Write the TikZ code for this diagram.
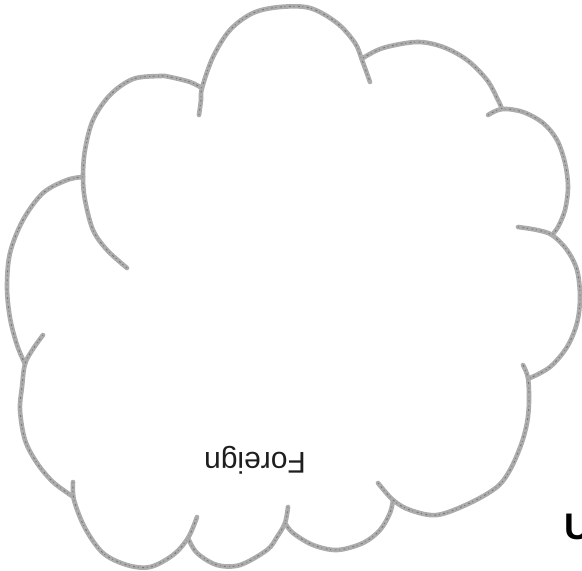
\documentclass[tikz,border=0pt]{standalone}
\usepackage{fontspec}
\setmainfont{Liberation Sans}
\begin{document}
\begin{tikzpicture}[x=1pt,y=-1pt,
  lobe/.style={draw={rgb,255:red,172;green,172;blue,172}, line width=4.6pt, line cap=round, line join=round},
  grain/.style={draw={rgb,255:red,120;green,120;blue,120}, line width=0.9pt, dash pattern=on 1pt off 3.5pt on 2pt off 2.5pt},
  lbl/.style={text={rgb,255:red,30;green,30;blue,30}, font=\fontsize{30}{36}\selectfont, inner sep=0pt}]
\useasboundingbox (0,0) rectangle (582,571);
\clip (0,0) rectangle (582,571);
\fill[white] (0,0) rectangle (582,571);
\def\lobeA{(199,115) (201,100) (202,88) (213,57) (230,30) (253,13) (280,7) (310,8) (337,23) (355,43) (362,60) (370,82)}
\def\lobeB{(202,88) (190,82) (170,77) (160,76) (133,79) (110,95) (93,120) (85,150) (83,177) (85,200) (93,230) (107,250) (127,268)}
\def\lobeC{(83,177) (67,180) (43,193) (23,220) (10,253) (7,287) (10,318) (17,345) (25,364)}
\def\lobeD{(43,335) (33,349) (25,364) (22,387) (20,410) (25,440) (37,463) (53,482) (72,496)}
\def\lobeE{(73,482) (74,500) (85,528) (103,553) (127,565) (150,567) (173,555) (188,538) (197,517)}
\def\lobeF{(288,507) (285,523) (277,537) (267,550) (240,565) (217,565) (197,553) (188,538)}
\def\lobeG{(285,523) (293,533) (313,545) (337,550) (363,543) (380,530) (390,513) (393,500)}
\def\lobeH{(378,483) (393,500) (410,510) (437,515) (470,503) (497,487) (510,470) (521,445) (527,423) (529,402) (528,378) (523,365)}
\def\lobeI{(518,227) (537,230) (552,235) (567,250) (577,270) (580,297) (577,323) (567,347) (550,367) (530,378)}
\def\lobeJ{(488,115) (502,109) (523,112) (543,123) (557,140) (565,163) (568,187) (565,210) (558,227) (552,235)}
\def\lobeK{(363,58) (383,48) (417,42) (443,47) (467,60) (487,80) (498,100) (502,109)}
\foreach \p in {\lobeA,\lobeB,\lobeC,\lobeD,\lobeE,\lobeF,\lobeG,\lobeH,\lobeI,\lobeJ,\lobeK}{
  \draw[lobe] plot[smooth, tension=0.55] coordinates {\p};
  \draw[grain] plot[smooth, tension=0.55] coordinates {\p};
}
\node[lbl, rotate=180] (foreign) at (255,460) {Foreign};
\node[anchor=base west, inner sep=0pt, font=\fontsize{37}{40}\selectfont\bfseries] (cut) at (564,539) {U};
\end{tikzpicture}
\end{document}
